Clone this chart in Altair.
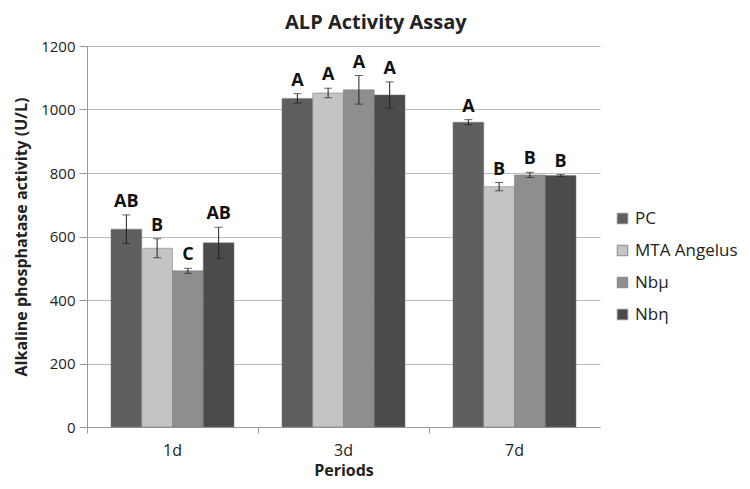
import altair as alt
import pandas as pd

periods = ["1d", "3d", "7d"]
groups = ["PC", "MTA Angelus", "Nbμ", "Nbη"]
values = [[623, 563, 492, 580], [1035, 1052, 1062, 1046], [960, 757, 794, 792]]
errors = [[45, 30, 8, 49], [15, 15, 45, 41], [8, 13, 8, 3]]
letters = [["AB", "B", "C", "AB"], ["A", "A", "A", "A"], ["A", "B", "B", "B"]]
colors = ["#5f5f5f", "#c4c4c4", "#8e8e8e", "#4b4b4b"]

rows = []
for i, p in enumerate(periods):
    for j, g in enumerate(groups):
        v = values[i][j]
        e = errors[i][j]
        rows.append({"Period": p, "Group": g, "Value": v, "lo": v - e, "hi": v + e, "Letter": letters[i][j]})
df = pd.DataFrame(rows)

FONT = "Open Sans"

x = alt.X("Period:N", sort=periods, title="Periods",
          scale=alt.Scale(paddingInner=0, paddingOuter=0),
          axis=alt.Axis(labelAngle=0, bandPosition=0, labelFontSize=16, labelColor="#222",
                        titleFontSize=16, titleFontWeight="bold", titleColor="#222",
                        domainColor="#999", tickColor="#999", tickSize=6, labelPadding=9,
                        titlePadding=4, labelFont=FONT, titleFont=FONT))
xo = alt.XOffset("Group:N", sort=groups, scale=alt.Scale(paddingInner=0, paddingOuter=0.78))
base = alt.Chart(df)

bars = base.mark_bar(stroke="#777", strokeWidth=0.5).encode(
    x=x, xOffset=xo,
    y=alt.Y("Value:Q", title="Alkaline phosphatase  activity (U/L)",
            scale=alt.Scale(domain=[0, 1200]),
            axis=alt.Axis(values=[0, 200, 400, 600, 800, 1000, 1200], format="d",
                          labelFontSize=15,
                          labelColor="#222", titleFontSize=16, titleFontWeight="bold",
                          titleColor="#222", gridColor="#bbbbbb", domainColor="#999",
                          tickColor="#999", tickSize=8, labelPadding=4, titlePadding=11,
                          labelFont=FONT, titleFont=FONT)),
    color=alt.Color("Group:N", sort=groups, scale=alt.Scale(domain=groups, range=colors),
                    legend=alt.Legend(title=None, symbolType="square", symbolSize=110,
                                      symbolStrokeColor="#888", symbolStrokeWidth=1,
                                      labelFontSize=17, labelFont=FONT, labelColor="#222",
                                      rowPadding=14, orient="none", legendX=527, legendY=164)),
)

rule = base.mark_rule(color="#222", strokeWidth=1).encode(
    x=x, xOffset=xo, y="lo:Q", y2="hi:Q")
cap_lo = base.mark_tick(color="#222", size=8, thickness=1).encode(x=x, xOffset=xo, y="lo:Q")
cap_hi = base.mark_tick(color="#222", size=8, thickness=1).encode(x=x, xOffset=xo, y="hi:Q")
labels = base.mark_text(fontSize=18, fontWeight="bold", font=FONT, color="#111", dy=-13).encode(
    x=x, xOffset=xo, y="hi:Q", text="Letter:N")

chart = alt.layer(bars, rule, cap_lo, cap_hi, labels).properties(
    width=513, height=381,
    padding={"left": 5, "top": 5, "right": 0, "bottom": 3},
    title=alt.TitleParams("ALP Activity Assay", fontSize=20, font=FONT, fontWeight="bold",
                          color="#222", anchor="middle", frame="bounds", offset=6),
).configure_view(stroke=None)

chart.save("out.html", embed_options={"renderer": "svg", "actions": False})
